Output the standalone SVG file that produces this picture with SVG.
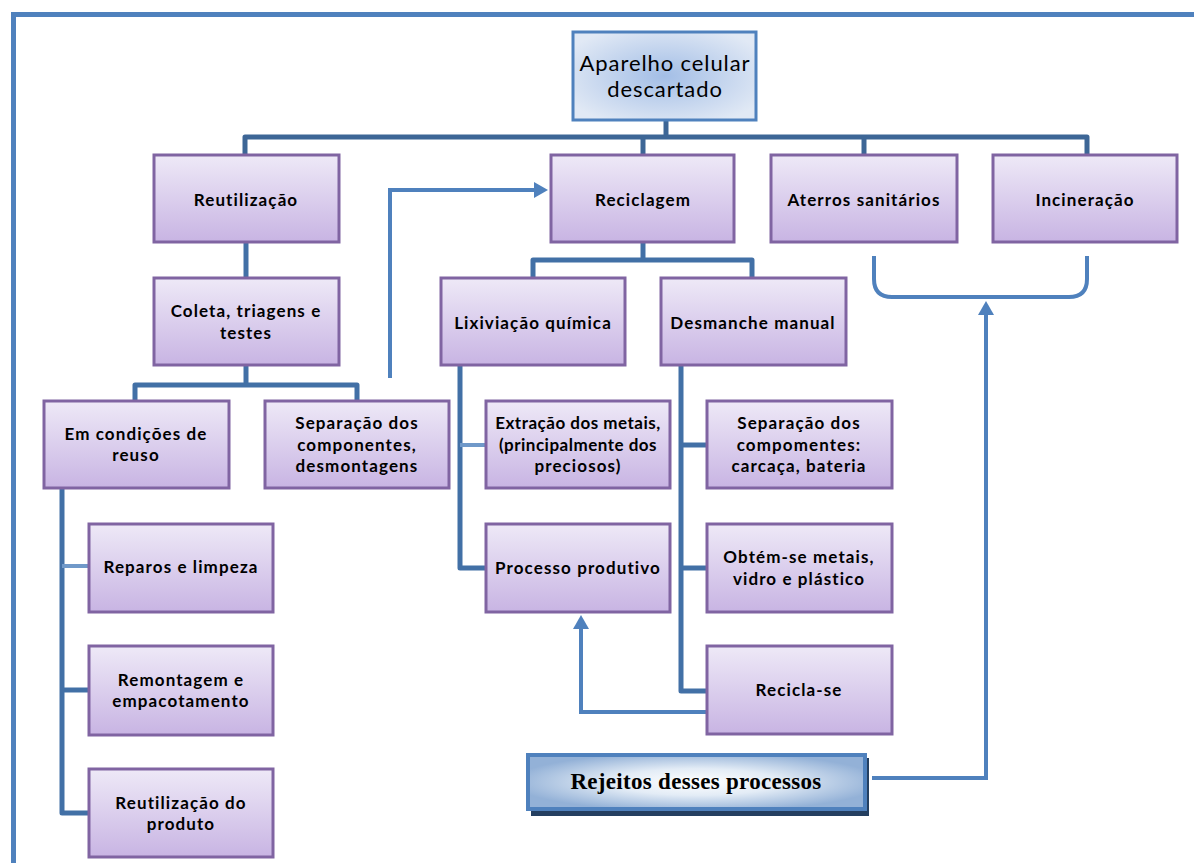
<svg xmlns="http://www.w3.org/2000/svg" width="1194" height="863" viewBox="0 0 1194 863">
<defs>
<linearGradient id="purple" x1="0" y1="0" x2="0" y2="1">
<stop offset="0" stop-color="#EEE9F7"/>
<stop offset="1" stop-color="#C8B4E3"/>
</linearGradient>
<radialGradient id="blueTop" cx="0.5" cy="0.5" r="0.6">
<stop offset="0" stop-color="#A3BEE6"/>
<stop offset="1" stop-color="#E1E9F5"/>
</radialGradient>
<radialGradient id="rej" cx="0.5" cy="0.5" r="0.55">
<stop offset="0" stop-color="#FFFFFF"/>
<stop offset="0.45" stop-color="#E3ECF6"/>
<stop offset="1" stop-color="#93B1D7"/>
</radialGradient>
<marker id="arr" markerUnits="userSpaceOnUse" viewBox="0 -8 14 16" markerWidth="14" markerHeight="16" refX="0" refY="0" orient="auto">
<path d="M0,-8 L14,0 L0,8 Z" fill="#4F81BD"/>
</marker>
</defs>
<style>
.box{fill:url(#purple);stroke:#8064A2;stroke-width:3}
.t{font-family:Lato,"Open Sans",sans-serif;font-size:17px;font-weight:700;fill:#000;text-anchor:middle;dominant-baseline:central;letter-spacing:1.1px}
.big{font-size:22px;font-weight:400;letter-spacing:0.9px}
.tree{fill:none;stroke:#4270A6;stroke-width:5;stroke-linejoin:round}
.bus{fill:none;stroke:#3D6696;stroke-width:5;stroke-linejoin:round}
.stub{fill:none;stroke:#7099C9;stroke-width:4}
.flow{fill:none;stroke:#4F81BD;stroke-width:4}
</style>
<g id="frame">
<path d="M13.5 863 V14.5 H1194" fill="none" stroke="#4F81BD" stroke-width="5"/>
</g>
<g id="connectors">
<path class="bus" d="M666 120 V137"/>
<path class="bus" d="M245 155 V137 H1087 V155"/>
<path class="bus" d="M643 137 V155"/>
<path class="bus" d="M864 137 V155"/>
<path class="tree" d="M246 243 V278"/>
<path class="tree" d="M246 365 V385"/>
<path class="tree" d="M135 401 V385 H357 V401"/>
<path class="tree" d="M643 242 V260"/>
<path class="tree" d="M533 278 V260 H752 V278"/>
<path class="tree" d="M460 365 V568 H487"/>
<path class="stub" d="M460 445 H487"/>
<path class="tree" d="M681 365 V691 H707"/>
<path class="tree" d="M681 445 H707"/>
<path class="tree" d="M681 568 H707"/>
<path class="tree" d="M62 488 V813 H89"/>
<path class="stub" d="M62 566 H89"/>
<path class="tree" d="M62 690 H89"/>
<path class="flow" d="M390 378 V190 H534" marker-end="url(#arr)"/>
<path class="flow" d="M712 712 H581 V629" marker-end="url(#arr)"/>
<path class="flow" d="M872 778 H986 V315" marker-end="url(#arr)"/>
<path class="flow" d="M874 256 V279 Q874 297 892 297 H1069 Q1087 297 1087 279 V256"/>
</g>
<g id="n-aparelho">
<rect x="573" y="32" width="183" height="88" fill="url(#blueTop)" stroke="#4F81BD" stroke-width="3"/>
<text class="t big" x="665" y="62">Aparelho celular</text>
<text class="t big" x="665" y="88">descartado</text>
</g>
<g id="n-reutilizacao">
<rect class="box" x="154" y="155" width="185" height="87"/>
<text class="t" x="246" y="199">Reutilização</text>
</g>
<g id="n-reciclagem">
<rect class="box" x="551" y="155" width="183" height="87"/>
<text class="t" x="643" y="199">Reciclagem</text>
</g>
<g id="n-aterros">
<rect class="box" x="771" y="155" width="186" height="87"/>
<text class="t" x="864" y="199">Aterros sanitários</text>
</g>
<g id="n-incineracao">
<rect class="box" x="993" y="155" width="184" height="87"/>
<text class="t" x="1085" y="199">Incineração</text>
</g>
<g id="n-coleta">
<rect class="box" x="154" y="278" width="185" height="87"/>
<text class="t" x="246" y="310">Coleta, triagens e</text>
<text class="t" x="246" y="332">testes</text>
</g>
<g id="n-lixiviacao">
<rect class="box" x="441" y="278" width="184" height="87"/>
<text class="t" x="533" y="322">Lixiviação química</text>
</g>
<g id="n-desmanche">
<rect class="box" x="661" y="278" width="185" height="87"/>
<text class="t" x="753" y="322">Desmanche manual</text>
</g>
<g id="n-emcondicoes">
<rect class="box" x="44" y="401" width="185" height="87"/>
<text class="t" x="136" y="433">Em condições de</text>
<text class="t" x="136" y="454">reuso</text>
</g>
<g id="n-separacao1">
<rect class="box" x="265" y="401" width="184" height="87"/>
<text class="t" x="357" y="422">Separação dos</text>
<text class="t" x="357" y="444">componentes,</text>
<text class="t" x="357" y="465">desmontagens</text>
</g>
<g id="n-extracao">
<rect class="box" x="486" y="401" width="184" height="87"/>
<text class="t" x="578" y="422" style="letter-spacing:0.5px">Extração dos metais,</text>
<text class="t" x="578" y="444" style="letter-spacing:0.5px">(principalmente dos</text>
<text class="t" x="578" y="465">preciosos)</text>
</g>
<g id="n-separacao2">
<rect class="box" x="707" y="401" width="185" height="87"/>
<text class="t" x="799" y="422">Separação dos</text>
<text class="t" x="799" y="444">compomentes:</text>
<text class="t" x="799" y="465">carcaça, bateria</text>
</g>
<g id="n-reparos">
<rect class="box" x="89" y="524" width="184" height="88"/>
<text class="t" x="181" y="566">Reparos e limpeza</text>
</g>
<g id="n-processo">
<rect class="box" x="486" y="524" width="184" height="88"/>
<text class="t" x="578" y="567">Processo produtivo</text>
</g>
<g id="n-obtem">
<rect class="box" x="707" y="524" width="185" height="88"/>
<text class="t" x="799" y="556">Obtém-se metais,</text>
<text class="t" x="799" y="578">vidro e plástico</text>
</g>
<g id="n-remontagem">
<rect class="box" x="89" y="646" width="184" height="89"/>
<text class="t" x="181" y="679">Remontagem e</text>
<text class="t" x="181" y="700">empacotamento</text>
</g>
<g id="n-recicla">
<rect class="box" x="707" y="646" width="185" height="88"/>
<text class="t" x="799" y="689">Recicla-se</text>
</g>
<g id="n-reutproduto">
<rect class="box" x="89" y="769" width="184" height="88"/>
<text class="t" x="181" y="802">Reutilização do</text>
<text class="t" x="181" y="823">produto</text>
</g>
<g id="n-rejeitos">
<rect x="531" y="758" width="338" height="58" fill="#243F60"/>
<rect x="528" y="755" width="337" height="54" fill="url(#rej)" stroke="#4F81BD" stroke-width="4"/>
<text x="696" y="781" style="font-family:'Liberation Serif','Times New Roman',serif;font-size:23px;font-weight:700;letter-spacing:0.3px;text-anchor:middle;dominant-baseline:central">Rejeitos desses processos</text>
</g>
</svg>
